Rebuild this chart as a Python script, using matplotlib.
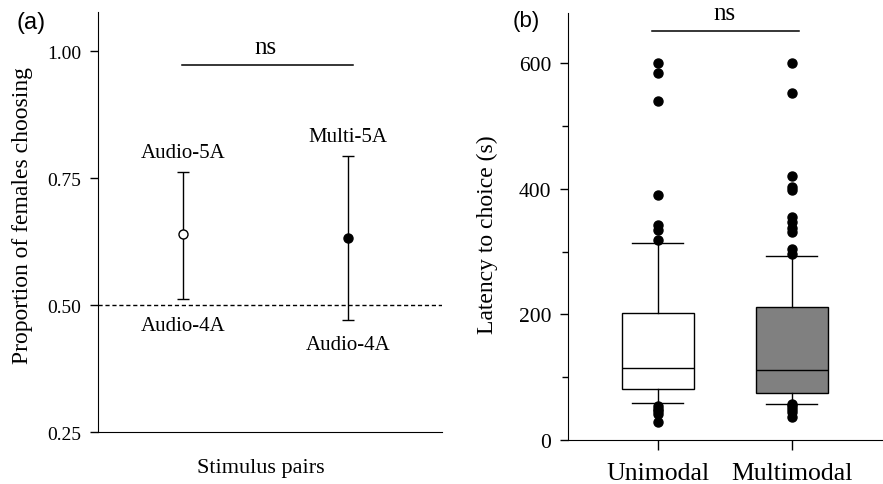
import numpy as np
import matplotlib
matplotlib.use('Agg')
import matplotlib.pyplot as plt

plt.rcParams['font.family'] = ['Liberation Serif', 'DejaVu Serif']

# panel (a): proportion of females choosing, with 95% CI
pair_pos = [1, 2]
proportions = [0.640, 0.633]
ci_low = [0.513, 0.471]
ci_high = [0.762, 0.794]
top_labels = ['Audio-5A', 'Multi-5A']
bottom_labels = ['Audio-4A', 'Audio-4A']

# panel (b): latency box plot summaries
groups = ['Unimodal', 'Multimodal']
q1 = [81, 75]
medians = [114, 112]
q3 = [203, 212]
whis_low = [59, 58]
whis_high = [314, 293]
outliers_uni = [601, 585, 540, 391, 342, 334, 319, 54, 50, 46, 42, 28]
outliers_multi = [601, 553, 420, 403, 399, 356, 347, 338, 331, 305, 297, 58, 54, 50, 45, 36]

fig = plt.figure(figsize=(8.83, 4.85), dpi=100)

# ---- panel a
ax1 = fig.add_axes([0.111, 0.107, 0.39, 0.866])
ax1.axhline(0.5, color='black', linestyle='--', linewidth=1.0, dashes=(3, 2))
fills = ['white', 'black']
for x, p, lo, hi, fc in zip(pair_pos, proportions, ci_low, ci_high, fills):
    ax1.errorbar([x], [p], yerr=[[p - lo], [hi - p]], fmt='o', color='black',
                 mfc=fc, mec='black', ms=6.5, capsize=4.5, elinewidth=1.0,
                 capthick=1.0, zorder=3)
ax1.text(pair_pos[0], 0.80, top_labels[0], ha='center', va='center', fontsize=15)
ax1.text(pair_pos[1], 0.833, top_labels[1], ha='center', va='center', fontsize=15)
ax1.text(pair_pos[0], 0.459, bottom_labels[0], ha='center', va='center', fontsize=15)
ax1.text(pair_pos[1], 0.423, bottom_labels[1], ha='center', va='center', fontsize=15)
ax1.plot([0.995, 2.03], [0.972, 0.972], color='black', linewidth=1.1)
ax1.text(1.5, 1.008, 'ns', ha='center', va='center', fontsize=18)

ax1.set_xlim(0.485, 2.57)
ax1.set_ylim(0.25, 1.077)
ax1.set_yticks([0.25, 0.50, 0.75, 1.00])
ax1.set_yticklabels(['0.25', '0.50', '0.75', '1.00'])
ax1.set_xticks([])
ax1.spines['top'].set_visible(False)
ax1.spines['right'].set_visible(False)
ax1.tick_params(axis='y', direction='out', length=6, width=1.0, labelsize=14, pad=6)
ax1.set_ylabel('Proportion of females choosing', fontsize=17)
ax1.yaxis.set_label_coords(-0.189, 0.517)
ax1.set_xlabel('Stimulus pairs', fontsize=16)
ax1.xaxis.set_label_coords(0.474, -0.062)
fig.text(0.019, 0.953, '(a)', fontsize=17, family='Liberation Sans', va='center')

# ---- panel b
ax2 = fig.add_axes([0.6433, 0.0907, 0.3567, 0.880])
stats = []
for i, name in enumerate(groups):
    stats.append({
        'label': name, 'med': medians[i], 'q1': q1[i], 'q3': q3[i],
        'whislo': whis_low[i], 'whishi': whis_high[i],
        'fliers': outliers_uni if i == 0 else outliers_multi,
    })
bp = ax2.bxp(stats, positions=[1, 2], widths=0.54, patch_artist=True,
             showfliers=True,
             boxprops=dict(linewidth=1.0, edgecolor='black'),
             medianprops=dict(color='black', linewidth=1.0),
             whiskerprops=dict(color='black', linewidth=1.0),
             capprops=dict(color='black', linewidth=1.0),
             flierprops=dict(marker='o', markerfacecolor='black',
                             markeredgecolor='black', markersize=6.5))
for patch, fc in zip(bp['boxes'], ['white', '#808080']):
    patch.set_facecolor(fc)
for cap in bp['caps']:
    xd = cap.get_xdata()
    c = np.mean(xd)
    cap.set_xdata([c - 0.19, c + 0.19])

ax2.plot([0.96, 2.05], [652, 652], color='black', linewidth=1.1)
ax2.text(1.5, 680, 'ns', ha='center', va='center', fontsize=18)

ax2.set_xlim(0.33, 2.68)
ax2.set_ylim(0, 680)
ax2.set_yticks([0, 200, 400, 600])
ax2.set_yticks([100, 300, 500], minor=True)
ax2.set_xticks([1, 2])
ax2.set_xticklabels(groups)
ax2.spines['top'].set_visible(False)
ax2.spines['right'].set_visible(False)
ax2.tick_params(axis='y', which='major', direction='out', length=6, width=1.0, labelsize=15.5, pad=6)
ax2.tick_params(axis='y', which='minor', direction='out', length=4, width=1.0)
ax2.tick_params(axis='x', direction='out', length=7, width=1.0, labelsize=18.5, pad=9)
ax2.set_ylabel('Latency to choice (s)', fontsize=17)
ax2.yaxis.set_label_coords(-0.222, 0.484)
fig.text(0.58, 0.955, '(b)', fontsize=16, family='Liberation Sans', va='center')

fig.savefig('out.png', dpi=100)
